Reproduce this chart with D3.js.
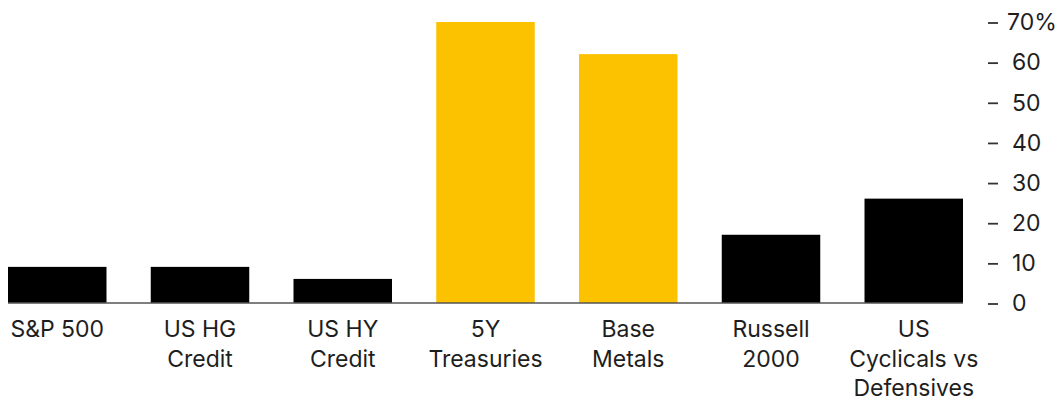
<!DOCTYPE html>
<html>
<head>
<meta charset="utf-8">
<script src="https://cdn.jsdelivr.net/npm/d3@7"></script>
<style>
  html, body { margin: 0; padding: 0; background: #fff; }
  svg text { font-family: Inter, "Liberation Sans", Arial, sans-serif; fill: #1e1e1e; }
</style>
</head>
<body>
<svg id="chart" width="1060" height="401"></svg>
<script>
// Categories (multi-line labels) and percentage values
const categories = [
  ["S&P 500"],
  ["US HG", "Credit"],
  ["US HY", "Credit"],
  ["5Y", "Treasuries"],
  ["Base", "Metals"],
  ["Russell", "2000"],
  ["US", "Cyclicals vs", "Defensives"]
];
const values = [9, 9, 6, 70, 62, 17, 26];
const highlighted = [false, false, false, true, true, false, false];
const yTicks = [0, 10, 20, 30, 40, 50, 60, 70];

const svg = d3.select("#chart");

const x = d3.scaleBand()
  .domain(categories.map((d, i) => i))
  .range([8, 963])
  .paddingInner(0.31)
  .paddingOuter(0);

const y = d3.scaleLinear()
  .domain([0, 70])
  .range([303, 22]);

// Bars
svg.append("g")
  .selectAll("rect")
  .data(values)
  .join("rect")
  .attr("x", (d, i) => x(i))
  .attr("width", x.bandwidth())
  .attr("y", d => y(d))
  .attr("height", d => y(0) - y(d))
  .attr("fill", (d, i) => highlighted[i] ? "#FCC200" : "#000");

// Baseline
svg.append("line")
  .attr("x1", 8).attr("x2", 963)
  .attr("y1", y(0)).attr("y2", y(0))
  .attr("stroke", "#555").attr("stroke-width", 1.5);

// Right-hand axis: dash marks + labels
const axis = svg.append("g");
axis.selectAll("line")
  .data(yTicks)
  .join("line")
  .attr("x1", 988).attr("x2", 998)
  .attr("y1", d => y(d) + 1).attr("y2", d => y(d) + 1)
  .attr("stroke", "#333").attr("stroke-width", 1.8);
axis.selectAll("text")
  .data(yTicks)
  .join("text")
  .attr("x", d => d === 70 ? 1007 : 1012)
  .attr("y", d => y(d))
  .attr("dy", "0.36em")
  .style("font-size", "23px")
  .text(d => d === 70 ? d + "%" : d);

// Category labels
const labels = svg.append("g")
  .selectAll("text")
  .data(categories)
  .join("text")
  .attr("text-anchor", "middle")
  .attr("x", (d, i) => x(i) + x.bandwidth() / 2)
  .attr("y", 337)
  .style("font-size", "23px");
labels.selectAll("tspan")
  .data(d => d)
  .join("tspan")
  .attr("x", function () { return d3.select(this.parentNode).attr("x"); })
  .attr("dy", (d, i) => i === 0 ? 0 : 29.5)
  .text(d => d);
</script>
</body>
</html>
